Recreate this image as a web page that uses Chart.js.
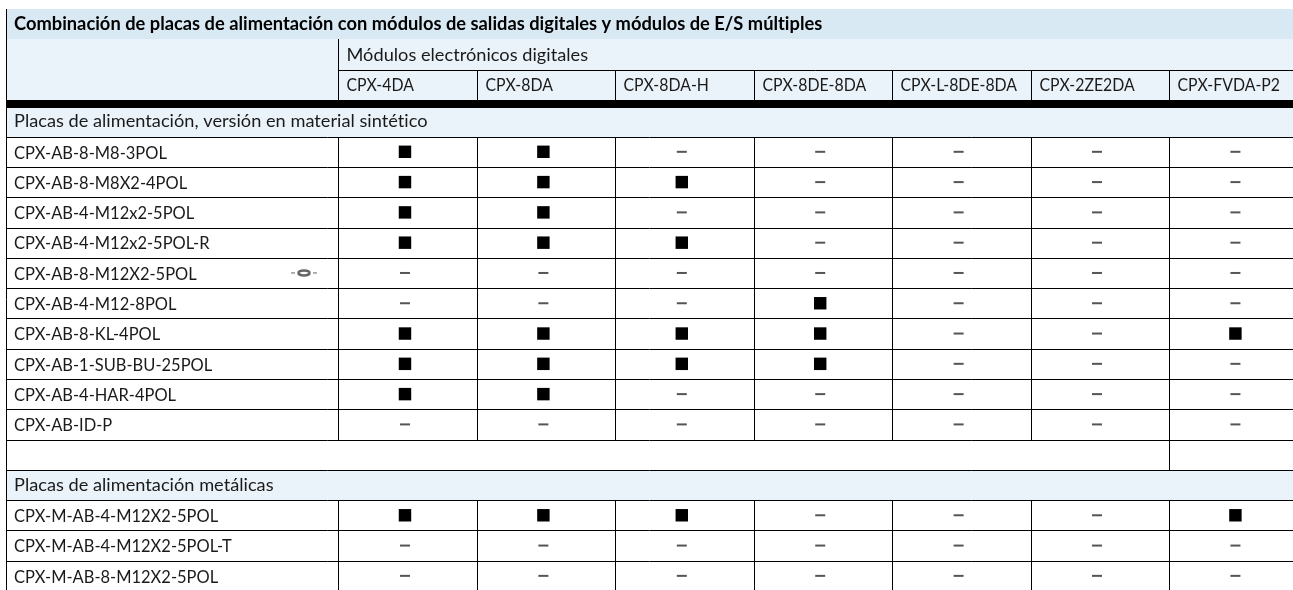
<!DOCTYPE html>
<html>
<head>
<meta charset="utf-8">
<title>Combinación de placas de alimentación</title>
<script src="https://cdn.jsdelivr.net/npm/chart.js@4/dist/chart.umd.min.js"></script>
<style>
  html, body { margin: 0; padding: 0; background: #fff; }
  #wrap { width: 1293px; height: 590px; }
</style>
</head>
<body>
<div id="wrap"><canvas id="chart" width="1293" height="590"></canvas></div>
<script>
// Table text
var title = 'Combinación de placas de alimentación con módulos de salidas digitales y módulos de E/S múltiples';
var moduleHeading = 'Módulos electrónicos digitales';
var modules = ['CPX-4DA', 'CPX-8DA', 'CPX-8DA-H', 'CPX-8DE-8DA', 'CPX-L-8DE-8DA', 'CPX-2ZE2DA', 'CPX-FVDA-P2'];
var plasticHeading = 'Placas de alimentación, versión en material sintético';
var metalHeading = 'Placas de alimentación metálicas';
var plasticPlates = ['CPX-AB-8-M8-3POL', 'CPX-AB-8-M8X2-4POL', 'CPX-AB-4-M12x2-5POL', 'CPX-AB-4-M12x2-5POL-R', 'CPX-AB-8-M12X2-5POL', 'CPX-AB-4-M12-8POL', 'CPX-AB-8-KL-4POL', 'CPX-AB-1-SUB-BU-25POL', 'CPX-AB-4-HAR-4POL', 'CPX-AB-ID-P'];
var metalPlates = ['CPX-M-AB-4-M12X2-5POL', 'CPX-M-AB-4-M12X2-5POL-T', 'CPX-M-AB-8-M12X2-5POL'];

// 1 = combinable (square), 0 = not combinable (dash), one array per module
var plastic4DA   = [1, 1, 1, 1, 0, 0, 1, 1, 1, 0];
var plastic8DA   = [1, 1, 1, 1, 0, 0, 1, 1, 1, 0];
var plastic8DAH  = [0, 1, 0, 1, 0, 0, 1, 1, 0, 0];
var plastic8DE   = [0, 0, 0, 0, 0, 1, 1, 1, 0, 0];
var plasticL8DE  = [0, 0, 0, 0, 0, 0, 0, 0, 0, 0];
var plastic2ZE   = [0, 0, 0, 0, 0, 0, 0, 0, 0, 0];
var plasticFVDA  = [0, 0, 0, 0, 0, 0, 1, 0, 0, 0];
var metal4DA     = [1, 0, 0];
var metal8DA     = [1, 0, 0];
var metal8DAH    = [1, 0, 0];
var metal8DE     = [0, 0, 0];
var metalL8DE    = [0, 0, 0];
var metal2ZE     = [0, 0, 0];
var metalFVDA    = [1, 0, 0];

var plasticValues = [plastic4DA, plastic8DA, plastic8DAH, plastic8DE, plasticL8DE, plastic2ZE, plasticFVDA];
var metalValues = [metal4DA, metal8DA, metal8DAH, metal8DE, metalL8DE, metal2ZE, metalFVDA];

var FIRST_METAL_ROW = 12;

// Build the two point sets
function buildPoints(wanted) {
  var out = [];
  plasticValues.forEach(function (col, x) {
    col.forEach(function (v, r) { if (v === wanted) out.push({ x: x, y: r }); });
  });
  metalValues.forEach(function (col, x) {
    col.forEach(function (v, r) { if (v === wanted) out.push({ x: x, y: FIRST_METAL_ROW + r }); });
  });
  return out;
}

var INK = '#000';
var TEXT = '#1a1a1a';
var FONT = 'Lato, "Open Sans", sans-serif';

// Draws bands, rules and all table text from the scales
var tablePlugin = {
  id: 'tablePlugin',
  beforeDatasetsDraw: function (chart) {
    var ctx = chart.ctx;
    var xs = chart.scales.x, ys = chart.scales.y;
    var L = 6, R = 1293;
    var edge = function (i) { return Math.round(xs.getPixelForValue(i - 0.4804)) + 0.5; };
    var rowTop = function (r) { return Math.round(ys.getPixelForValue(r - 0.5)); };

    ctx.save();
    // Bands
    ctx.fillStyle = '#d9e9f3';
    ctx.fillRect(L, 9, R - L, 30);
    ctx.fillStyle = '#ebf3fa';
    ctx.fillRect(L, 39, R - L, 61);
    ctx.fillRect(L, 108, R - L, rowTop(0) - 108);
    ctx.fillRect(L, rowTop(11), R - L, rowTop(12) - rowTop(11));

    // Rules
    ctx.strokeStyle = INK;
    ctx.lineWidth = 1;
    function seg(x1, y1, x2, y2) { ctx.beginPath(); ctx.moveTo(x1, y1); ctx.lineTo(x2, y2); ctx.stroke(); }
    seg(6.5, 9, 6.5, 590);
    seg(edge(0), 70.5, R, 70.5);
    seg(edge(0), 39, edge(0), 100);
    for (var i = 1; i < modules.length; i++) seg(edge(i), 70, edge(i), 100);
    for (var r = 0; r <= 14; r++) seg(L, rowTop(r) + 0.5, R, rowTop(r) + 0.5);
    for (var c = 0; c < modules.length; c++) {
      seg(edge(c), rowTop(0), edge(c), rowTop(10));
      seg(edge(c), rowTop(12), edge(c), 590);
    }
    seg(edge(6), rowTop(10), edge(6), rowTop(11));
    ctx.fillStyle = INK;
    ctx.fillRect(L, 100, R - L, 8);

    // Text, part numbers narrowed to follow the condensed face of the original
    function put(t, x, y, squeeze) { ctx.fillText(t, x, y, ctx.measureText(t).width * squeeze); }
    ctx.textBaseline = 'middle';
    ctx.textAlign = 'left';
    ctx.letterSpacing = '0.01px';
    ctx.fillStyle = '#000';
    ctx.font = 'bold 18.3px ' + FONT;
    put(title, 14, 24, 1);
    ctx.fillStyle = TEXT;
    ctx.font = '18.2px ' + FONT;
    put(moduleHeading, edge(0) + 8, 55, 1);
    put(plasticHeading, 14, 121, 1);
    put(metalHeading, 14, ys.getPixelForValue(11), 1);
    ctx.font = '18px ' + FONT;
    modules.forEach(function (m, i) { put(m, edge(i) + 8, 85, 0.88); });
    plasticPlates.forEach(function (p, i) { put(p, 14, ys.getPixelForValue(i) + 1, 0.915); });
    metalPlates.forEach(function (p, i) { put(p, 14, ys.getPixelForValue(FIRST_METAL_ROW + i) + 1, 0.915); });

    // Symbol beside CPX-AB-8-M12X2-5POL
    var sy = ys.getPixelForValue(4);
    ctx.strokeStyle = '#666';
    ctx.lineWidth = 2.5;
    ctx.beginPath();
    ctx.ellipse(304, sy, 5.5, 2.5, 0, 0, Math.PI * 2);
    ctx.stroke();
    ctx.lineWidth = 1;
    seg(291, sy, 295, sy);
    seg(313, sy, 317, sy);
    ctx.restore();
  }
};

new Chart(document.getElementById('chart'), {
  type: 'scatter',
  data: {
    datasets: [{
      label: 'Combinable',
      data: buildPoints(1),
      pointStyle: 'rect',
      radius: 8.8,
      backgroundColor: '#000',
      borderColor: '#000',
      borderWidth: 0
    }, {
      label: 'No combinable',
      data: buildPoints(0),
      pointStyle: 'line',
      radius: 5,
      borderColor: '#555',
      borderWidth: 2
    }]
  },
  options: {
    responsive: false,
    animation: false,
    events: [],
    layout: { padding: 0, autoPadding: false },
    plugins: { legend: { display: false }, tooltip: { enabled: false } },
    scales: {
      x: { type: 'linear', display: false, min: -2.926, max: 6.416 },
      y: { type: 'linear', display: false, reverse: true, min: -5.012, max: 14.467 }
    }
  },
  plugins: [tablePlugin]
});
</script>
</body>
</html>
